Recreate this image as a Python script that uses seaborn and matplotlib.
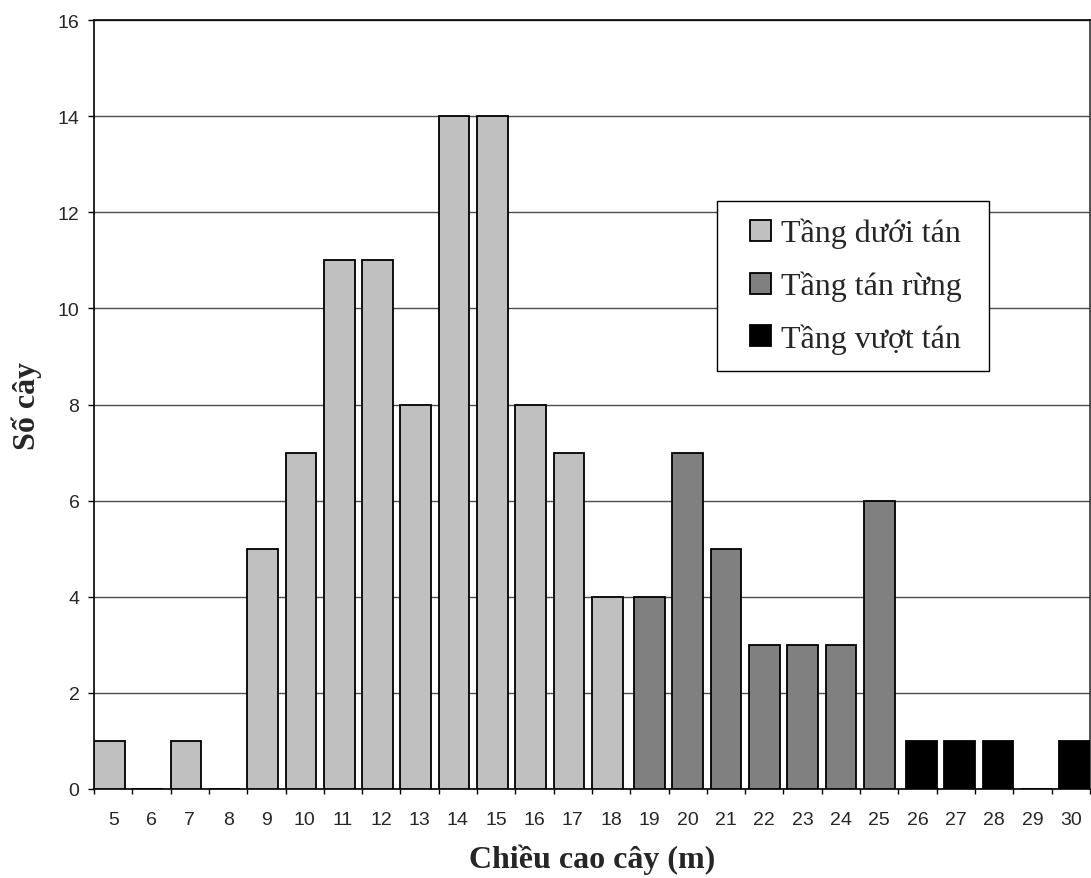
import pandas as pd
import matplotlib
matplotlib.use("Agg")
import matplotlib.pyplot as plt
import seaborn as sns
from matplotlib.legend_handler import HandlerPatch
from matplotlib.patches import Rectangle

# Data
heights = ["5", "6", "7", "8", "9", "10", "11", "12", "13", "14", "15", "16", "17",
           "18", "19", "20", "21", "22", "23", "24", "25", "26", "27", "28", "29", "30"]
counts = [1, 0, 1, 0, 5, 7, 11, 11, 8, 14, 14, 8, 7,
          4, 4, 7, 5, 3, 3, 3, 6, 1, 1, 1, 0, 1]
layers = (["Tầng dưới tán"] * 14) + (["Tầng tán rừng"] * 7) + (["Tầng vượt tán"] * 5)
layer_order = ["Tầng dưới tán", "Tầng tán rừng", "Tầng vượt tán"]
layer_colors = ["#c0c0c0", "#808080", "#000000"]
y_ticks = [0, 2, 4, 6, 8, 10, 12, 14, 16]

df = pd.DataFrame({"height": heights, "count": counts, "layer": layers})

sns.set_style("white")
plt.rcParams["font.family"] = ["Liberation Sans", "DejaVu Sans"]
serif = ["Liberation Serif", "DejaVu Serif"]

fig, ax = plt.subplots(figsize=(10.91, 8.79), dpi=100)
fig.subplots_adjust(left=0.0862, right=0.999, top=0.976, bottom=0.1013)

sns.barplot(data=df, x="height", y="count", hue="layer", order=heights,
            hue_order=layer_order, palette=layer_colors, dodge=False, width=0.8,
            edgecolor="black", linewidth=1.3, errorbar=None, ax=ax, zorder=3)

# small per-series shift like the original clustered bars
for container, shift in zip(ax.containers, [-0.1, 0.0, 0.1]):
    for bar in container:
        bar.set_x(bar.get_x() + shift)

ax.set_xlim(-0.5, len(heights) - 0.5)
ax.set_ylim(0, 16)
ax.set_yticks(y_ticks)
ax.yaxis.grid(True, color="#4d4d4d", linewidth=1.0, zorder=0)
ax.set_axisbelow(True)
for side in ["left", "bottom", "right", "top"]:
    ax.spines[side].set_visible(True)
    ax.spines[side].set_color("black")
    ax.spines[side].set_linewidth(1.2)
ax.spines["right"].set_color("#333333")

ax.tick_params(axis="y", which="major", direction="out", length=4.5, width=1,
               color="black", pad=6, labelsize=14, left=True)
ax.tick_params(axis="x", which="major", length=0, pad=16, labelsize=14)
ax.set_xticks(range(len(heights)), minor=False)
ax.set_xticks([i - 0.5 for i in range(len(heights) + 1)], minor=True)
ax.tick_params(axis="x", which="minor", direction="out", length=3.6, width=1,
               color="black", bottom=True)

ax.set_xlabel("Chiều cao cây (m)", family=serif, fontsize=23, fontweight="bold",
              labelpad=11)
ax.set_ylabel("Số cây", family=serif, fontsize=23, fontweight="bold")
ax.yaxis.set_label_coords(-0.052, 0.5)


def square_handle(legend, orig_handle, xdescent, ydescent, width, height, fontsize):
    # square swatch pushed to the right end of the handle box
    return Rectangle((-xdescent + width - height, -ydescent), height, height)


handles, labels = ax.get_legend_handles_labels()
ax.get_legend().remove()
leg = ax.legend(handles, labels, loc="upper left",
                bbox_to_anchor=(0.6255, 0.5514, 0.2731, 0.2133), mode="expand",
                borderaxespad=0, fancybox=False, framealpha=1, edgecolor="black",
                prop={"family": serif, "size": 23},
                handler_map={h: HandlerPatch(patch_func=square_handle) for h in handles},
                handlelength=1.17, handleheight=0.63, handletextpad=0.31,
                labelspacing=0.7, borderpad=0.53)
leg.get_frame().set_linewidth(1.0)

fig.savefig("out.png", dpi=100)
